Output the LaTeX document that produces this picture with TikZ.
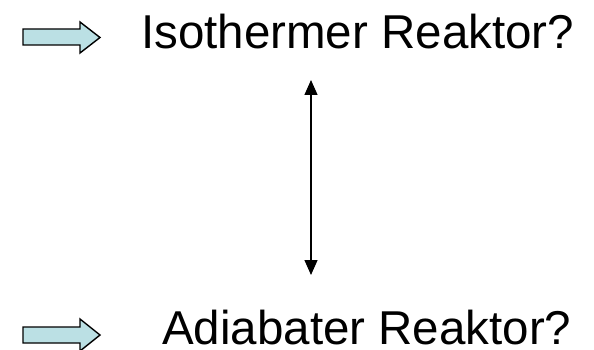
\documentclass[tikz,border=0pt]{standalone}
\usepackage{fontspec}
\setmainfont{Liberation Sans}
\usetikzlibrary{arrows.meta}
\definecolor{arrowfill}{RGB}{187,224,228}
\tikzset{
  blockarrow/.style={draw=black, line width=1.4pt, fill=arrowfill, line join=miter},
  question/.style={anchor=base west, inner sep=0pt, text depth=0pt, font=\fontsize{47.5}{56}\selectfont},
  link/.style={line width=1.3pt, {Triangle[width=13pt,length=15pt]}-{Triangle[width=13pt,length=15pt]}}
}
\begin{document}
\begin{tikzpicture}[x=1pt,y=-1pt]
\useasboundingbox (0,0) rectangle (594,350);
% block arrows pointing at the two questions
\draw[blockarrow] (23,29) -- (80,29) -- (80,22) -- (100,37.5) -- (80,53) -- (80,45) -- (23,45) -- cycle;
\draw[blockarrow] (23,327) -- (80,327) -- (80,319) -- (100,335) -- (80,351) -- (80,343) -- (23,343) -- cycle;
% the two questions
\node[question] (iso) at (141,49) {Isothermer Reaktor?};
\node[question] (adi) at (162,344) {Adiabater Reaktor?};
% double-headed link between them
\coordinate (top) at (311,80);
\coordinate (bot) at (311,275);
\draw[link] (top) -- (bot);
\end{tikzpicture}
\end{document}
